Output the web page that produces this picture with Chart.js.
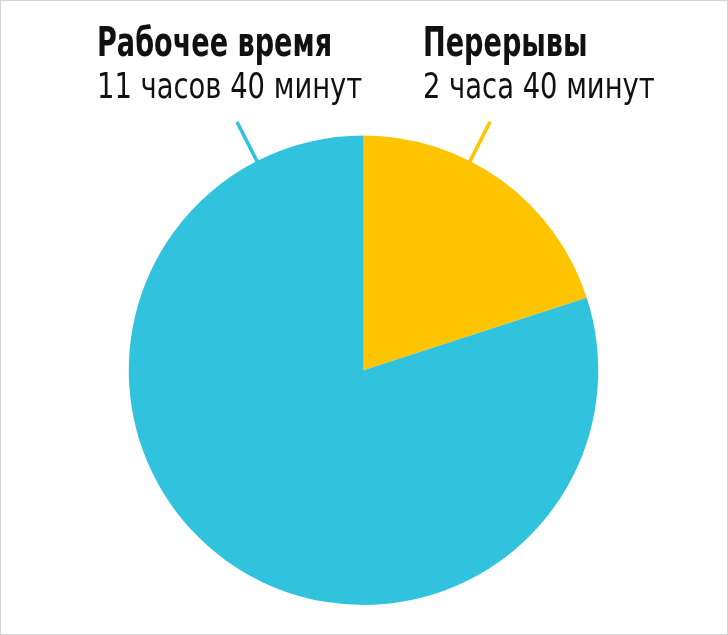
<!DOCTYPE html>
<html>
<head>
<meta charset="utf-8">
<script src="https://cdn.jsdelivr.net/npm/chart.js@4/dist/chart.umd.min.js"></script>
<style>
  html, body { margin: 0; padding: 0; background: #fff; }
  #wrap { position: relative; width: 728px; height: 635px; }
</style>
</head>
<body>
<div id="wrap"><canvas id="pie" width="728" height="635"></canvas></div>
<script>
// slices as drawn in the picture (share of the circle, %)
var categories = ['Перерывы', 'Рабочее время'];
var sliceShare = [20, 80];
var durations = ['2 часа 40 минут', '11 часов 40 минут'];
var sliceColors = ['rgb(255, 196, 0)', 'rgb(49, 194, 222)'];

// leader line angle (degrees from 12 o'clock) and label spot for each slice
var leaderAngle = [27, -27];
var labelX = [423, 97];

// draws text squeezed horizontally (the original uses a narrow face)
function narrowText(ctx, text, x, y, font, sx) {
  ctx.save();
  ctx.font = font;
  ctx.translate(x, y);
  ctx.scale(sx, 1);
  ctx.fillText(text, 0, 0);
  ctx.restore();
}

var labelsPlugin = {
  id: 'labelsPlugin',
  afterDatasetsDraw: function (chart) {
    var ctx = chart.ctx;
    var arc = chart.getDatasetMeta(0).data[0];
    var cx = arc.x, cy = arc.y, r = arc.outerRadius;
    ctx.save();
    // leader lines
    leaderAngle.forEach(function (deg, i) {
      var a = deg * Math.PI / 180;
      ctx.strokeStyle = sliceColors[i];
      ctx.lineWidth = 3.5;
      ctx.beginPath();
      ctx.moveTo(cx + Math.sin(a) * (r - 2), cy - Math.cos(a) * (r - 2));
      ctx.lineTo(cx + Math.sin(a) * (r + 44), cy - Math.cos(a) * (r + 44));
      ctx.stroke();
    });
    // labels
    ctx.fillStyle = '#111';
    ctx.textBaseline = 'alphabetic';
    categories.forEach(function (name, i) {
      narrowText(ctx, name, labelX[i], 56,
        'bold 41px "DejaVu Sans Condensed", "DejaVu Sans", sans-serif', 0.735);
      narrowText(ctx, durations[i], labelX[i], 98,
        '35px "DejaVu Sans Condensed", "DejaVu Sans", sans-serif', 0.87);
    });
    // thin frame
    ctx.strokeStyle = '#d4d4d4';
    ctx.lineWidth = 1;
    ctx.strokeRect(0.5, 0.5, chart.width - 1, chart.height - 1);
    ctx.restore();
  }
};

var config = {
  type: 'pie',
  data: {
    labels: categories,
    datasets: [{
      data: sliceShare,
      backgroundColor: sliceColors,
      borderWidth: 0
    }]
  },
  options: {
    responsive: false,
    animation: false,
    layout: { padding: { top: 135.5, bottom: 30, left: 0, right: 1 } },
    plugins: {
      legend: { display: false },
      tooltip: { enabled: false }
    }
  },
  plugins: [labelsPlugin]
};

var ctx = document.getElementById('pie').getContext('2d');
window.pieChart = new Chart(ctx, config);
</script>
</body>
</html>
